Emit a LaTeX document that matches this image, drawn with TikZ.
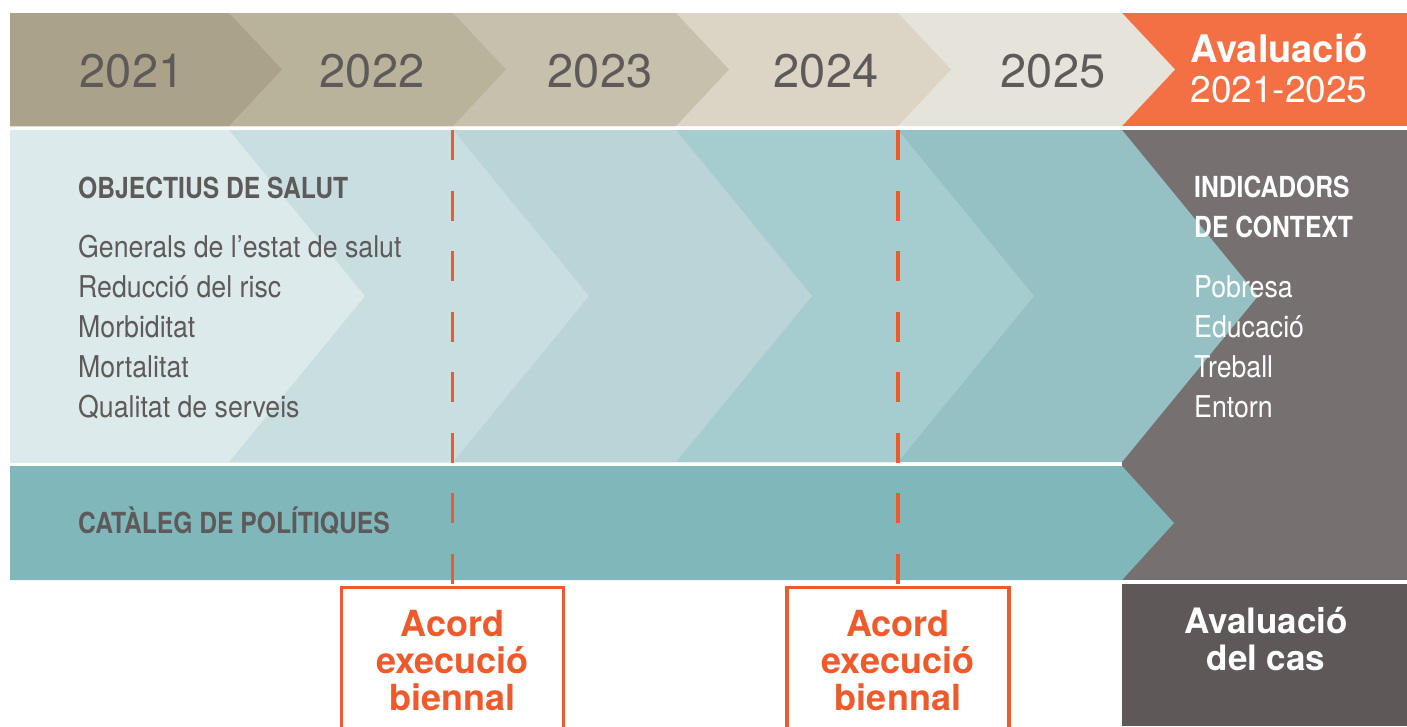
\documentclass[tikz,border=0pt]{standalone}
\usepackage{fontspec}
\setmainfont{TeX Gyre Heros}
\newfontfamily\condfont[FakeStretch=0.89,Ligatures=TeX]{TeX Gyre Heros}
\newfontfamily\condbold[FakeStretch=0.85,Ligatures=TeX]{TeX Gyre Heros}
\definecolor{yearA}{HTML}{ABA389}
\definecolor{yearB}{HTML}{BAB39B}
\definecolor{yearC}{HTML}{C7C0AC}
\definecolor{yearD}{HTML}{DCD5C5}
\definecolor{yearE}{HTML}{E6E3DA}
\definecolor{evalorange}{HTML}{F37044}
\definecolor{tealA}{HTML}{DCEAEB}
\definecolor{tealB}{HTML}{C8DEE1}
\definecolor{tealC}{HTML}{BAD4D8}
\definecolor{tealD}{HTML}{A5CCCE}
\definecolor{tealE}{HTML}{95C1C4}
\definecolor{tealF}{HTML}{7FB7BB}
\definecolor{ctxgray}{HTML}{767170}
\definecolor{casegray}{HTML}{5E5958}
\definecolor{acordorange}{HTML}{EF5A2C}
\definecolor{txtgray}{HTML}{5F5A5A}
\tikzset{
  year/.style={anchor=base, text=txtgray, inner sep=0pt, font=\fontsize{47}{47}\selectfont},
  evaltitle/.style={anchor=base, text=white, inner sep=0pt, font=\bfseries\fontsize{38}{38}\selectfont},
  evalyears/.style={anchor=base, text=white, inner sep=0pt, font=\fontsize{37}{37}\selectfont},
  listhead/.style={anchor=base west, text=txtgray, inner sep=0pt, font=\condbold\bfseries\fontsize{29}{29}\selectfont},
  listitem/.style={anchor=base west, text=txtgray, inner sep=0pt, font=\condfont\fontsize{30}{30}\selectfont},
  casetext/.style={anchor=base, text=white, inner sep=0pt, font=\bfseries\fontsize{35}{35}\selectfont},
  acordbox/.style={anchor=north, draw=acordorange, line width=3.5pt, minimum width=222pt,
    minimum height=146pt, align=center, text=acordorange, font=\bfseries\fontsize{36}{37}\selectfont},
  acordline/.style={draw=acordorange, line width=3.5pt, dash pattern=on 30pt off 30.5pt}
}
\begin{document}
\begin{tikzpicture}[x=1pt,y=-1pt]
  \useasboundingbox (0,0) rectangle (1407,726);
  \clip (0,0) rectangle (1407,726);
  % years band
  \fill[evalorange] (1122,13) rectangle (1407,126);
  \foreach \nx/\col in {1122/yearE, 898/yearD, 676/yearC, 453/yearB, 229/yearA}
    \fill[\col] (10,13) -- (\nx,13) -- (\nx+53,69.5) -- (\nx,126) -- (10,126) -- cycle;
  % objectives band
  \fill[ctxgray] (1122,130) rectangle (1407,580);
  \foreach \nx/\col in {1122/tealE, 898/tealD, 676/tealC, 453/tealB, 229/tealA}
    \fill[\col] (10,130) -- (\nx,130) -- (\nx+136,296) -- (\nx,462) -- (10,462) -- cycle;
  \fill[tealF] (10,466) -- (1122,466) -- (1174,523) -- (1122,580) -- (10,580) -- cycle;
  \fill[casegray] (1122,584) rectangle (1407,726);
  % texts
  \foreach \y/\x [count=\i] in {2021/132, 2022/372, 2023/600, 2024/826, 2025/1053}
    \node[year] (y\i) at (\x,87) {\y};
  \node[evaltitle] (evaltop) at (1279,62) {Avaluació};
  \node[evalyears] (evalspan) at (1279,102) {2021-2025};
  \node[listhead] (objhead) at (78,198) {OBJECTIUS DE SALUT};
  \foreach \t [count=\i] in {Generals de l’estat de salut, Reducció del risc, Morbiditat, Mortalitat, Qualitat de serveis}
    \node[listitem] (obj\i) at (78,217+40*\i) {\t};
  \node[listhead, text=white] (ctxhead1) at (1194,197) {INDICADORS};
  \node[listhead, text=white] (ctxhead2) at (1194,237) {DE CONTEXT};
  \foreach \t [count=\i] in {Pobresa, Educació, Treball, Entorn}
    \node[listitem, text=white] (ctx\i) at (1194,257+40*\i) {\t};
  \node[listhead] (cataleg) at (78,533) {CATÀLEG DE POLÍTIQUES};
  \node[casetext] (case1) at (1266,633) {Avaluació};
  \node[casetext] (case2) at (1266,670) {del cas};
  % biennial agreements
  \foreach \x [count=\i] in {452.5, 898} {
    \node[acordbox] (acord\i) at (\x,585.5) {Acord\\execució\\biennal};
    \coordinate (dash\i) at (\x,130);
    \draw[acordline] (dash\i) -- (acord\i.north);
  }
\end{tikzpicture}
\end{document}
